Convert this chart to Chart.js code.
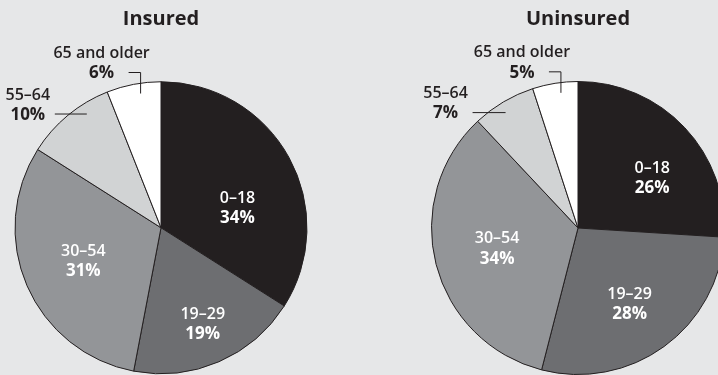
<!DOCTYPE html>
<html>
<head>
<meta charset="utf-8">
<script src="https://cdn.jsdelivr.net/npm/chart.js@4.4.0/dist/chart.umd.min.js"></script>
<style>
  html, body { margin: 0; padding: 0; }
  body { width: 718px; height: 375px; overflow: hidden; background: #e6e7e8; position: relative; }
  .box { position: absolute; top: 0; height: 375px; }
  #leftBox { left: 0; width: 359px; }
  #rightBox { left: 359px; width: 420px; }
</style>
</head>
<body>
<div class="box" id="leftBox"><canvas id="insured"></canvas></div>
<div class="box" id="rightBox"><canvas id="uninsured"></canvas></div>
<script>
// age groups, clockwise from 12 o'clock
const ageGroups = ['0–18', '19–29', '30–54', '55–64', '65 and older'];
const insuredShares = [34, 19, 31, 10, 6];
const uninsuredShares = [26, 28, 34, 7, 5];
const sliceColors = ['#231f20', '#6d6e71', '#939598', '#d1d3d4', '#ffffff'];

const FONT = "'Open Sans', 'Noto Sans', sans-serif";

// draws the slice labels: white ones inside, leader lines for the small slices
const sliceLabels = {
  id: 'sliceLabels',
  afterDatasetsDraw(chart, args, opts) {
    const ctx = chart.ctx;
    const arcs = chart.getDatasetMeta(0).data;
    const values = chart.data.datasets[0].data;
    ctx.save();
    ctx.textAlign = 'center';
    ctx.textBaseline = 'middle';

    function twoLines(name, pct, x, y, color) {
      ctx.fillStyle = color;
      ctx.font = '600 16px ' + FONT;
      ctx.fillText(name, x, y - 10);
      ctx.font = 'bold 17px ' + FONT;
      ctx.fillText(pct + '%', x, y + 10);
    }

    arcs.forEach(function (arc, i) {
      const r = arc.outerRadius;
      const span = arc.endAngle - arc.startAngle;
      if (i < 3) {
        const a = arc.startAngle + span * opts.inside[i].frac;
        const d = r * opts.inside[i].r;
        twoLines(chart.data.labels[i], values[i], arc.x + d * Math.cos(a), arc.y + d * Math.sin(a), '#ffffff');
        return;
      }
      const o = opts.outside[i - 3];
      const a = arc.startAngle + span * o.frac;
      const ax = arc.x + r * 0.93 * Math.cos(a);
      const ay = arc.y + r * 0.93 * Math.sin(a);
      ctx.strokeStyle = '#231f20';
      ctx.lineWidth = 1;
      ctx.beginPath();
      let ex, ey;
      if (o.rise) {
        ctx.moveTo(ax, ay);
        ctx.lineTo(ax, ay - o.rise);
        ctx.lineTo(ax - o.run, ay - o.rise);
        ex = ax - o.run; ey = ay - o.rise;
      } else {
        ctx.moveTo(ax, ay);
        ctx.lineTo(ax - o.run, ay);
        ex = ax - o.run; ey = ay;
      }
      ctx.stroke();
      twoLines(chart.data.labels[i], values[i], ex - 27, ey - 9, '#231f20');
    });
    ctx.restore();
  }
};

function makePie(id, title, shares, pad, labelOpts) {
  return new Chart(document.getElementById(id), {
    type: 'pie',
    data: {
      labels: ageGroups,
      datasets: [{
        data: shares,
        backgroundColor: sliceColors,
        borderColor: '#231f20',
        borderWidth: 1
      }]
    },
    options: {
      responsive: true,
      maintainAspectRatio: false,
      animation: false,
      layout: { padding: pad },
      plugins: {
        legend: { display: false },
        tooltip: { enabled: false },
        title: {
          display: true,
          text: title,
          color: '#231f20',
          font: { family: FONT, size: 20, weight: 'bold' },
          padding: { top: 7, bottom: 50 }
        },
        sliceLabels: labelOpts
      }
    },
    plugins: [sliceLabels]
  });
}

makePie('insured', 'Insured', insuredShares,
  { left: 14.5, right: 51.5, top: 0, bottom: 0.5 },
  {
    inside: [{ frac: 0.62, r: 0.54 }, { frac: 0.5, r: 0.72 }, { frac: 0.5, r: 0.58 }],
    outside: [{ frac: 0.68, run: 32 }, { frac: 0.6, rise: 21, run: 12 }]
  });

makePie('uninsured', 'Uninsured', uninsuredShares,
  { left: 71.5, right: 53.5, top: 0, bottom: -1.5 },
  {
    inside: [{ frac: 0.6, r: 0.61 }, { frac: 0.52, r: 0.63 }, { frac: 0.5, r: 0.57 }],
    outside: [{ frac: 0.44, run: 33 }, { frac: 0.6, rise: 21, run: 12 }]
  });
</script>
</body>
</html>
